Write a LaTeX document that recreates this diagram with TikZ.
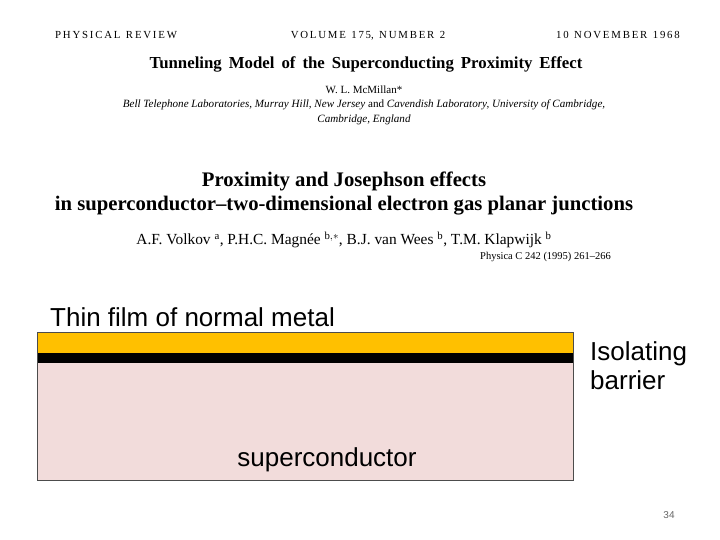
\documentclass[tikz,border=0pt]{standalone}
\usepackage{fontspec}
\setmainfont{Liberation Serif}
\newfontfamily\arial{Liberation Sans}
\definecolor{pinkfill}{HTML}{F2DCDB}
\definecolor{goldfill}{HTML}{FFC000}
\tikzset{x=1pt,y=-1pt,
 sf/.style={font=\arial\fontsize{26}{29}\selectfont,inner sep=0pt},
 hd/.style={font=\fontsize{10.8}{12}\selectfont,inner sep=0pt}}
\begin{document}
\begin{tikzpicture}
\useasboundingbox[fill=white] (0,0) rectangle (720,540);
\node[hd,anchor=base west] (h1) at (55,39) {P\,H\,Y\,S\,I\,C\,A\,L\ \ R\,E\,V\,I\,E\,W};
\node[hd,anchor=base] (h2) at (368,39) {V\,O\,L\,U\,M\,E\ \ 1\,7\,5,\ \ N\,U\,M\,B\,E\,R\ \ 2};
\node[hd,anchor=base east] (h3) at (680,39) {1\,0\ \ N\,O\,V\,E\,M\,B\,E\,R\ \ 1\,9\,6\,8};
\node[font=\fontsize{16.8}{18}\selectfont\bfseries,inner sep=0pt] (t1) at (366,64) {Tunneling\, Model\, of\, the\, Superconducting\, Proximity\, Effect};
\node[font=\fontsize{11}{13}\selectfont,inner sep=0pt] (a1) at (364,90) {W. L. M\textsc{c}M\textsc{illan}*};
\node[font=\fontsize{11.1}{15}\selectfont\itshape,inner sep=0pt,align=center] (af) at (364,112) {Bell Telephone Laboratories, Murray Hill, New Jersey \textup{and} Cavendish Laboratory, University of Cambridge,\\Cambridge, England};
\node[font=\fontsize{20.7}{24}\selectfont\bfseries,inner sep=0pt,align=center] (t2) at (344,193) {Proximity and Josephson effects\\in superconductor--two-dimensional electron gas planar junctions};
\node[font=\fontsize{15.4}{17}\selectfont,inner sep=0pt] (a2) at (344,240) {A.F. Volkov $^{\rm a}$, P.H.C. Magn\'ee $^{\rm b,*}$, B.J. van Wees $^{\rm b}$, T.M. Klapwijk $^{\rm b}$};
\node[font=\fontsize{10.5}{12}\selectfont,inner sep=0pt,anchor=west] (j) at (480,257) {Physica C 242 (1995) 261--266};
\path[fill=pinkfill] (37,332) rectangle (573,480);
\fill[goldfill] (37,332) rectangle (573,353);
\fill[black] (37,353) rectangle (573,363);
\draw[black!70,line width=0.8pt] (37,332) rectangle (573,480);
\node[sf,anchor=west] (thin) at (50,317) {Thin film of normal metal};
\node[sf,anchor=west,align=left] (iso) at (590,366) {Isolating\\barrier};
\node[sf] (sc) at (327,460) {superconductor};
\node[font=\arial\fontsize{10}{12}\selectfont,text=black!60] (pg) at (669,515) {34};
\end{tikzpicture}
\end{document}
